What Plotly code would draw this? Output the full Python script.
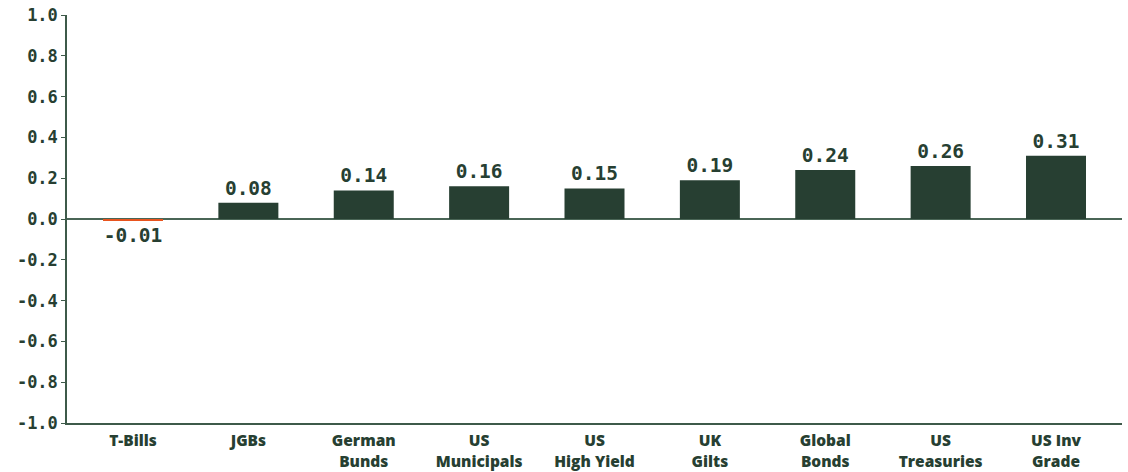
import plotly.graph_objects as go

categories = ["T-Bills", "JGBs", "German<br>Bunds", "US<br>Municipals", "US<br>High Yield",
              "UK<br>Gilts", "Global<br>Bonds", "US<br>Treasuries", "US Inv<br>Grade"]
values = [-0.01, 0.08, 0.14, 0.16, 0.15, 0.19, 0.24, 0.26, 0.31]
tick_vals = [-1.0, -0.8, -0.6, -0.4, -0.2, 0.0, 0.2, 0.4, 0.6, 0.8, 1.0]
tick_text = ["-1.0", "-0.8", "-0.6", "-0.4", "-0.2", "0.0", "0.2", "0.4", "0.6", "0.8", "1.0"]

DARK = "#273F32"
ORANGE = "#E8541E"
colors = [ORANGE if v < 0 else DARK for v in values]
labels = [f"{v:.2f}" for v in values]

fig = go.Figure(go.Bar(
    x=list(range(len(categories))),
    y=values,
    marker=dict(color=colors, line=dict(width=0)),
    width=0.52,
    text=labels,
    textposition="outside",
    cliponaxis=False,
    textfont=dict(family="DejaVu Sans Mono", size=19.5, color=DARK, weight="bold"),
))

fig.update_layout(
    width=1128, height=472,
    margin=dict(l=67, r=6, t=15, b=49),
    plot_bgcolor="white", paper_bgcolor="white",
    showlegend=False,
    font=dict(color=DARK),
)
fig.update_xaxes(
    tickmode="array",
    tickvals=list(range(len(categories))),
    ticktext=categories,
    range=[-0.572, 8.572],
    showgrid=False,
    showline=True, linecolor="#3E5A4A", linewidth=1.5,
    ticks="", ticklabelstandoff=3,
    tickfont=dict(family="Open Sans", size=15.5, color=DARK, weight=800),
    zeroline=False,
    automargin=False,
)
fig.update_yaxes(
    range=[-1.0, 1.0],
    tickmode="array", tickvals=tick_vals, ticktext=tick_text,
    showgrid=False,
    showline=True, linecolor="#3E5A4A", linewidth=1.5,
    ticks="outside", ticklen=4, tickcolor="#3E5A4A", tickwidth=1,
    tickfont=dict(family="DejaVu Sans Mono", size=17, color=DARK, weight="bold"),
    ticklabeloverflow="allow",
    zeroline=True, zerolinecolor="#4A6556", zerolinewidth=1.5,
    automargin=False,
)

# remove the default 8px page margin so the figure fills the window exactly
fig.write_html("out.html", config={"displayModeBar": False},
               post_script="document.body.style.margin='0';")
